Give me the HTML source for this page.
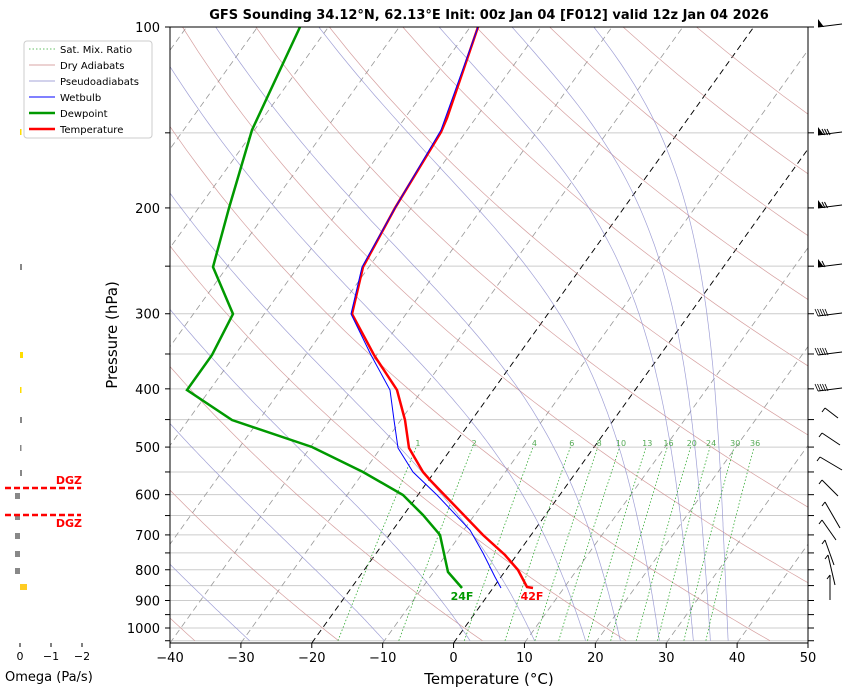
<!DOCTYPE html>
<html><head><meta charset="utf-8"><style>
body{margin:0;background:#fff;}
svg{display:block;font-family:"DejaVu Sans","Liberation Sans",sans-serif;}
</style></head><body>
<svg id="s" width="843" height="690" xmlns="http://www.w3.org/2000/svg">
<defs><clipPath id="c"><rect x="170" y="27" width="638" height="616"/></clipPath></defs>
<g id="bg" clip-path="url(#c)"></g>
<g id="fg" clip-path="url(#c)"></g>
<g id="ax"></g>
</svg>
<script>
const NS="http://www.w3.org/2000/svg";
const bg=document.getElementById('bg'),fg=document.getElementById('fg'),ax=document.getElementById('ax');
function el(p,t,a,txt){const e=document.createElementNS(NS,t);for(const k in a)e.setAttribute(k,a[k]);if(txt!==undefined)e.textContent=txt;p.appendChild(e);return e;}
const Y=p=>27+601*Math.log10(p/100);
const X=(T,y)=>170+(T+40)*7.089+(643-y)*0.7175;
function pl(g,pts,st){el(g,'polyline',Object.assign({points:pts.map(q=>q[0].toFixed(1)+','+q[1].toFixed(1)).join(' '),fill:'none'},st));}
for(let p=100;p<=1050;p+=50){const y=Y(p);el(bg,'line',{x1:170,x2:808,y1:y,y2:y,stroke:'#ccc','stroke-width':1});}
for(let T=-120;T<=50;T+=10){const c=(T==0||T==-20);el(bg,'line',{x1:X(T,643),y1:643,x2:X(T,27),y2:27,stroke:c?'#000':'#999','stroke-width':c?1:0.8,'stroke-dasharray':'6,4'});}
const ps=[];for(let p=1050;p>=100;p-=10)ps.push(p);
for(let t0=-100;t0<=200;t0+=20){const th=t0+273.15;pl(bg,ps.map(p=>{const T=th*Math.pow(p/1000,0.2857)-273.15,y=Y(p);return[X(T,y),y];}),{stroke:'#c88','stroke-width':0.7,opacity:0.8});}
function es(T){return 6.112*Math.exp(17.67*T/(T+243.5));}
function dTdp(p,Tc){const T=Tc+273.15,e=es(Tc),rs=0.622*e/(p-e),Lv=2.501e6,Rd=287.04,cp=1005.7;return (Rd*T+Lv*rs)/(cp+Lv*Lv*rs*0.622/(Rd*T*T))/p;}
for(const t0 of [-149,-129,-109,-89,-69,-49,-29,-10,2.1,11.2,18.4,23.3,28.8,33.6,36,38.5]){let T=t0;
 let arr=[[X(T,Y(1050)),Y(1050)]];
 for(let p=1050;p>100;p-=5){const k1=dTdp(p,T),k2=dTdp(p-2.5,T-2.5*k1),k3=dTdp(p-2.5,T-2.5*k2),k4=dTdp(p-5,T-5*k3);T-=5*(k1+2*k2+2*k3+k4)/6;const y=Y(p-5);arr.push([X(T,y),y]);}
 pl(bg,arr,{stroke:'#88c','stroke-width':0.7,opacity:0.8});}
const ws=[1,2,4,6,8,10,13,16,20,24,30,36];
for(const w of ws){const pts=[];for(let p=1050;p>=500;p-=10){const e=p*w/1000/(0.622+w/1000),l=Math.log(e/6.112),Td=243.5*l/(17.67-l),y=Y(p);pts.push([X(Td,y),y]);}
 pl(bg,pts,{stroke:'#3a3','stroke-width':0.8,'stroke-dasharray':'1.5,2'});
 const e=492*w/1000/(0.622+w/1000),l=Math.log(e/6.112),Td=243.5*l/(17.67-l);el(bg,'text',{x:X(Td,443),y:446,'font-size':8,fill:'#5a5','text-anchor':'middle'},String(w));}
const temp=[[478,27],[447,118],[441,132],[395,208],[363,267],[352,314],[374,355],[397,390],[405,420],[409,448],[423,472],[430,480],[457,508],[483,535],[505,555],[518,570],[527,587],[533,588]];
const wb=[[478,27],[441,130],[395,208],[362,267],[351,314],[371,355],[390,390],[394,420],[398,448],[413,472],[437,495],[470,530],[483,553],[495,577],[501,588]];
const dp=[[300,27],[252,130],[229,208],[213,267],[233,314],[212,355],[187,390],[232,420],[312,447],[363,472],[403,495],[423,515],[440,535],[448,572],[462,588]];
pl(fg,dp,{stroke:'#090','stroke-width':2.5});
pl(fg,temp,{stroke:'#f00','stroke-width':2.5});
pl(fg,wb,{stroke:'#00f','stroke-width':1});
el(fg,'text',{x:462,y:600,'font-size':11,'font-weight':'bold',fill:'#090','text-anchor':'middle'},'24F');
el(fg,'text',{x:532,y:600,'font-size':11,'font-weight':'bold',fill:'#f00','text-anchor':'middle'},'42F');
el(ax,'rect',{x:170,y:27,width:638,height:616,fill:'none',stroke:'#000','stroke-width':1});
for(let p=100;p<=1050;p+=50){const y=Y(p);el(ax,'line',{x1:165,x2:170,y1:y,y2:y,stroke:'#000'});el(ax,'line',{x1:808,x2:814,y1:y,y2:y,stroke:'#000'});}
for(const p of [100,200,300,400,500,600,700,800,900,1000])el(ax,'text',{x:160,y:Y(p)+5,'font-size':13,'text-anchor':'end'},String(p));
for(let T=-40;T<=50;T+=10){const x=170+(T+40)*7.089;el(ax,'line',{x1:x,x2:x,y1:643,y2:648,stroke:'#000'});el(ax,'text',{x:x,y:662,'font-size':13,'text-anchor':'middle'},(T<0?'\u2212'+(-T):String(T)));}
el(ax,'text',{x:489,y:684,'font-size':15,'text-anchor':'middle'},'Temperature (°C)');
el(ax,'text',{x:117,y:335,'font-size':15,'text-anchor':'middle',transform:'rotate(-90 117 335)'},'Pressure (hPa)');
el(ax,'text',{x:489,y:19,'font-size':13,'font-weight':'bold','text-anchor':'middle'},'GFS Sounding 34.12°N, 62.13°E Init: 00z Jan 04 [F012] valid 12z Jan 04 2026');
el(ax,'rect',{x:24,y:41,width:128,height:97,fill:'#fff',stroke:'#ccc',rx:3});
const lg=[['Sat. Mix. Ratio','#3a3',0.8,'1.5,2'],['Dry Adiabats','#c88',0.7,''],['Pseudoadiabats','#88c',0.7,''],['Wetbulb','#00f',1,''],['Dewpoint','#090',2.5,''],['Temperature','#f00',2.5,'']];
lg.forEach((l,i)=>{const y=49+i*16;el(ax,'line',{x1:29,x2:55,y1:y,y2:y,stroke:l[1],'stroke-width':l[2],'stroke-dasharray':l[3]||'none'});el(ax,'text',{x:60,y:y+4,'font-size':10},l[0]);});
const om=[[132,0,1,'#fd0'],[267,0,2,'#888'],[355,0,3,'#fd0'],[390,0,1.5,'#fd0'],[420,0,2,'#888'],[448,0,1,'#888'],[473,0,2,'#888'],[496,-5,0,'#888'],[517,-5,0,'#888'],[536,-5,0,'#888'],[554,-5,0,'#888'],[571,-5,0,'#888'],[587,0,7,'#fc2']];
om.forEach(o=>{const x0=20+o[1],x1=20+(o[2]||0);const a=Math.min(x0,x1),w=Math.max(Math.abs(x1-x0),1.5);el(ax,'rect',{x:a,y:o[0]-3,width:w,height:6,fill:o[3]});});
for(const y of [488,515])el(ax,'line',{x1:5,x2:81,y1:y,y2:y,stroke:'#f00','stroke-width':2.5,'stroke-dasharray':'6,3'});
el(ax,'text',{x:82,y:484,'font-size':11,'font-weight':'bold',fill:'#f00','text-anchor':'end'},'DGZ');
el(ax,'text',{x:82,y:527,'font-size':11,'font-weight':'bold',fill:'#f00','text-anchor':'end'},'DGZ');
[[20,'0'],[51,'\u22121'],[82,'\u22122']].forEach(t=>{el(ax,'line',{x1:t[0],x2:t[0],y1:643,y2:647,stroke:'#000'});el(ax,'text',{x:t[0],y:660,'font-size':11,'text-anchor':'middle'},t[1]);});
el(ax,'text',{x:5,y:681,'font-size':13},'Omega (Pa/s)');
[[22,'f'],[130,'f3'],[203,'f2'],[262,'f1'],[311,'b'],[350,'b'],[386,'b']].forEach(b=>{const y=b[0];el(ax,'line',{x1:818,y1:y+5,x2:842,y2:y+2,stroke:'#000'});
 if(b[1][0]=='f'){el(ax,'polygon',{points:`818,${y+5} 818,${y-3} 824,${y+5}`,fill:'#000'});const n=+(b[1][1]||0);for(let i=0;i<n;i++)el(ax,'line',{x1:825+i*2.5,y1:y+5,x2:822+i*2.5,y2:y-1,stroke:'#000'});}
 else for(let i=0;i<5;i++)el(ax,'line',{x1:818+i*2.5,y1:y+5,x2:815+i*2.5,y2:y-2,stroke:'#000','stroke-width':0.8});});
[[408,825,838,418],[433,822,840,445],[457,820,842,470],[480,822,838,496],[502,825,840,528],[520,822,836,540],[540,825,834,565],[555,828,835,585],[575,830,830,600]].forEach(b=>{el(ax,'line',{x1:b[1],y1:b[0],x2:b[2],y2:b[3],stroke:'#000'});el(ax,'line',{x1:b[1],y1:b[0],x2:b[1]-3,y2:b[0]+4,stroke:'#000'});});
</script>
</body></html>
